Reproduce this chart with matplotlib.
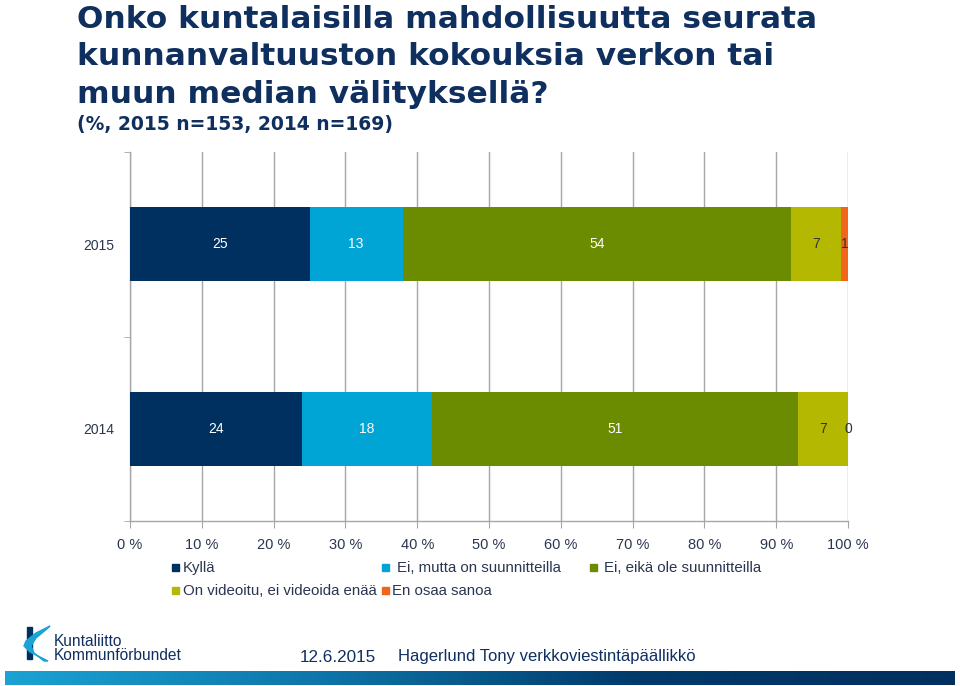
import numpy as np
import matplotlib
matplotlib.use("Agg")
import matplotlib.pyplot as plt
from matplotlib.patches import Polygon, Rectangle
from matplotlib.colors import LinearSegmentedColormap

# ---------------- data ----------------
years = ["2015", "2014"]
series_names = ["Kyllä", "Ei, mutta on suunnitteilla", "Ei, eikä ole suunnitteilla",
                "On videoitu, ei videoida enää", "En osaa sanoa"]
kylla = [25, 24]
ei_mutta = [13, 18]
ei_eika = [54, 51]
videoitu = [7, 7]
en_osaa = [1, 0]
values = [kylla, ei_mutta, ei_eika, videoitu, en_osaa]
colors = ["#00305F", "#00A5D5", "#6B8C00", "#B4B800", "#F26419"]
label_colors = ["white", "white", "white", "#333333", "#333333"]
xticks = [0, 10, 20, 30, 40, 50, 60, 70, 80, 90, 100]
xticklabels = [f"{t} %" for t in xticks]

title = "Onko kuntalaisilla mahdollisuutta seurata\nkunnanvaltuuston kokouksia verkon tai\nmuun median välityksellä?"
subtitle = "(%, 2015 n=153, 2014 n=169)"

NAVY = "#0F2F5F"
TXT = "#2A3550"
GRID = "#A6A6A6"
FONT = ["Liberation Sans", "DejaVu Sans"]
BOLD = ["DejaVu Sans"]

plt.rcParams["font.family"] = FONT

fig = plt.figure(figsize=(9.6, 6.86), dpi=100)
W, H = 960, 686

def fx(px):
    return px / W

def fy(py):
    return 1 - py / H

ax = fig.add_axes([fx(130), fy(521), fx(848) - fx(130), fy(152) - fy(521)])

ypos = np.arange(len(years))
left = np.zeros(len(years))
for name, vals, c, lc in zip(series_names, values, colors, label_colors):
    vals = np.array(vals, dtype=float)
    ax.barh(ypos, vals, left=left, height=0.4, color=c, label=name, zorder=3)
    for y, v, l in zip(ypos, vals, left):
        ax.text(l + v / 2, y, f"{int(v)}", ha="center", va="center",
                color=lc, fontsize=10, zorder=4)
    left = left + vals

ax.set_xlim(0, 100)
ax.set_ylim(1.5, -0.5)
ax.set_xticks(xticks)
ax.set_xticklabels(xticklabels, fontsize=10.5, color=TXT)
ax.set_yticks(ypos)
ax.set_yticklabels(years, fontsize=10, color=TXT)
ax.set_yticks([-0.5, 0.5, 1.5], minor=True)
ax.tick_params(axis="y", which="major", length=0, pad=11)
ax.tick_params(axis="y", which="minor", length=4, color=GRID, direction="out")
ax.tick_params(axis="x", which="major", length=5, color=GRID, pad=7, direction="out")
ax.grid(axis="x", color=GRID, linewidth=1.0, zorder=0)
for s in ["top", "right"]:
    ax.spines[s].set_visible(False)
for s in ["left", "bottom"]:
    ax.spines[s].set_color(GRID)
    ax.spines[s].set_linewidth(1.0)

# legend (manual layout as in the original slide)
leg_pos = [(172, 567, 183), (382, 567, 397), (590, 567, 604),
           (172, 590, 183), (382, 590, 392)]
for (sx, sy, tx), name, c in zip(leg_pos, series_names, colors):
    fig.patches.append(Rectangle((fx(sx), fy(sy + 3.5)), fx(7), fy(0) - fy(7),
                                 transform=fig.transFigure, color=c))
    fig.text(fx(tx), fy(sy + 1), name, ha="left", va="center", fontsize=10.8, color=TXT)

# title
fig.text(fx(77), fy(5), title, ha="left", va="top", fontsize=22.5, fontweight="bold",
         color=NAVY, linespacing=1.36, family=BOLD)
fig.text(fx(77), fy(115), subtitle, ha="left", va="top", fontsize=13.5, fontweight="bold",
         color=NAVY, family=BOLD)

# footer text
fig.text(fx(300), fy(657), "12.6.2015", ha="left", va="center", fontsize=12.3, color=NAVY)
fig.text(fx(398), fy(657), "Hagerlund Tony verkkoviestintäpäällikkö", ha="left",
         va="center", fontsize=11.95, color=NAVY)

# logo
fig.patches.append(Rectangle((fx(27), fy(659)), fx(5), fy(627) - fy(659),
                             transform=fig.transFigure, color="#00305F"))
sw = [(50, 626), (36, 633), (26, 641), (24, 646), (30, 652), (48, 661),
      (44, 661), (34, 653), (31, 646), (36, 638), (48, 628)]
fig.patches.append(Polygon([(fx(x), fy(y)) for x, y in sw], closed=True,
                           transform=fig.transFigure, color="#1AA3D4"))
fig.text(fx(54), fy(641), "Kuntaliitto", ha="left", va="center", fontsize=11.2, color=NAVY)
fig.text(fx(54), fy(656), "Kommunförbundet", ha="left", va="center", fontsize=11.2, color=NAVY)

# bottom gradient bar
gax = fig.add_axes([fx(5), fy(685), fx(955) - fx(5), fy(671) - fy(685)])
cmap = LinearSegmentedColormap.from_list("g", ["#1AA3D4", "#0E75A8", "#003A6B", "#00305F"])
gax.imshow(np.linspace(0, 1, 256)[None, :], aspect="auto", cmap=cmap)
gax.axis("off")

fig.savefig("out.png", dpi=100)
